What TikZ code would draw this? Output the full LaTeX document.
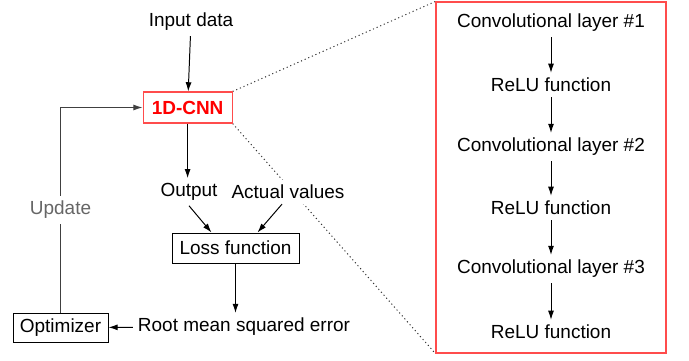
\documentclass[tikz,border=0pt]{standalone}
\usepackage{fontspec}
\setmainfont{Liberation Sans}
\usetikzlibrary{arrows.meta,backgrounds}

\tikzset{
  box/.style={draw, line width=0.7pt, inner sep=0pt},
  cnnbox/.style={draw=red!70, line width=0.8pt, fill=white, text=red, font=\fontsize{13.5pt}{16pt}\selectfont\bfseries, minimum width=2.225cm, minimum height=0.775cm},
  zoomline/.style={dash pattern=on 0.8pt off 2pt, line width=0.7pt, black!80}
}

\begin{document}
\begin{tikzpicture}[>={Latex[length=2.3mm,width=1.5mm]}, line width=0.7pt, font=\fontsize{13.5pt}{16pt}\selectfont]
                \useasboundingbox (0,0) rectangle (17.225,9);

                % training loop
                \node (input) at (4.775,8.45) {Input data};
                \node[cnnbox] (cnn) at (4.69,6.3125) {1D-CNN};
                \node (output) at (4.725,4.2) {Output};
                \node[fill=white] (actual) at (7.2,4.2) {Actual values};
                \node[box, minimum width=3.175cm, minimum height=0.75cm] (loss) at (5.8875,2.8) {Loss function};
                \node (rmse) at (6.1,0.825) {Root mean squared error};
                \node[box, minimum width=2.375cm, minimum height=0.725cm] (opt) at (1.5125,0.8125) {Optimizer};

                \draw[->] (input) to (cnn);
                \draw[->] (cnn) to (cnn |- output.north);
                \draw[->] (output.south) to ([xshift=-0.6cm]loss.north);
                \draw[->] ([xshift=-0.15cm]actual.south) to ([xshift=0.55cm]loss.north);
                \draw[->] (loss) to (loss |- rmse.north);
                \draw[->] (rmse) to (opt);
                \draw[->, black!75] (opt) |- node[pos=0.25, fill=white, text=black!60] {Update} (cnn);

                % layers inside the network
                \node[draw=red!70, line width=0.8pt, minimum width=5.75cm, minimum height=8.775cm] (detail) at (13.775,4.5625) {};
                \node (conv1) at (13.775,8.425) {Convolutional layer \#1};
                \node (relu1) at (13.775,6.875) {ReLU function};
                \node (conv2) at (13.775,5.325) {Convolutional layer \#2};
                \node (relu2) at (13.775,3.8) {ReLU function};
                \node (conv3) at (13.775,2.275) {Convolutional layer \#3};
                \node (relu3) at (13.775,0.7) {ReLU function};

                \draw[->] (conv1) to (relu1);
                \draw[->] (relu1) to (conv2);
                \draw[->] (conv2) to (relu2);
                \draw[->] (relu2) to (conv3);
                \draw[->] (conv3) to (relu3);

                \begin{scope}[on background layer]
                \draw[zoomline] (cnn.north east) to (detail.north west);
                \draw[zoomline] (cnn.south east) to (detail.south west);
                \end{scope}
            \end{tikzpicture}
\end{document}
